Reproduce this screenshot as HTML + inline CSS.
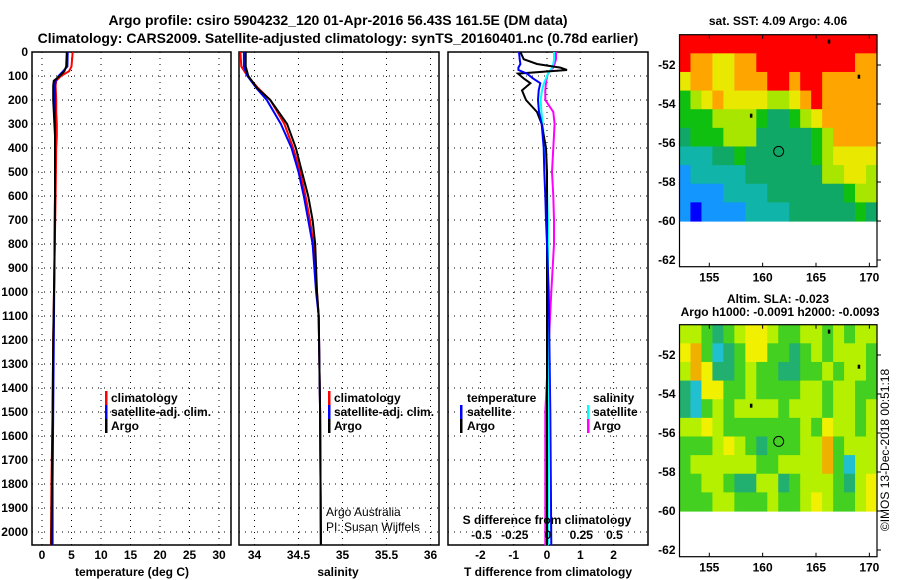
<!DOCTYPE html>
<html><head><meta charset="utf-8"><style>
body{margin:0;background:#fff;}
svg{display:block;font-family:"Liberation Sans",Arial,sans-serif;}
.b{font-weight:bold;}
</style></head><body>
<svg id="s" width="900" height="580" viewBox="0 0 900 580">
<text x="338" y="25" text-anchor="middle" class="b" font-size="14">Argo profile: csiro 5904232_120 01-Apr-2016 56.43S 161.5E (DM data)</text>
<text x="338" y="43" text-anchor="middle" class="b" font-size="14">Climatology: CARS2009. Satellite-adjusted climatology: synTS_20160401.nc (0.78d earlier)</text>
<text x="778" y="25" text-anchor="middle" class="b" font-size="12">sat. SST: 4.09 Argo: 4.06</text>
<text x="778" y="303" text-anchor="middle" class="b" font-size="12">Altim. SLA: -0.023</text>
<text x="780" y="316" text-anchor="middle" class="b" font-size="12">Argo h1000: -0.0091 h2000: -0.0093</text>
<text transform="translate(889,450) rotate(-90)" text-anchor="middle" font-size="12">©IMOS 13-Dec-2018 00:51:18</text>
<g id="g"></g>
</svg>
<script>
// ---- data ----
const depthTicks=[0,100,200,300,400,500,600,700,800,900,1000,1100,1200,1300,1400,1500,1600,1700,1800,1900,2000];
const tTicks=[0,5,10,15,20,25,30];
const sTicks=[34,34.5,35,35.5,36];
const sTickLabels=["34","34.5","35","35.5","36"];
const dTTicks=[-2,-1,0,1,2];
const dSTicks=[-0.5,-0.25,0,0.25,0.5];
const dSTickLabels=["-0.5","-0.25","0","0.25","0.5"];
const tempDepth=[0,60,80,100,120,140,200,250,300,350,400,600,900,1200,1500,1800,2055];
const tempArgo=[4.2,4.1,3.8,3.0,2.0,1.9,1.9,2.0,2.1,2.2,2.2,2.2,2.1,1.9,1.8,1.7,1.6];
const tempClim=[5.2,5.0,4.6,3.2,2.4,2.3,2.4,2.4,2.5,2.5,2.4,2.3,2.1,1.9,1.8,1.6,1.5];
const tempSat=[4.35,4.3,3.6,2.8,2.3,2.2,2.2,2.2,2.2,2.2,2.2,2.2,2.1,2.0,1.9,1.8,1.8];
const salDepth=[0,60,100,150,200,300,400,500,600,700,800,1000,1100,1500,2055];
const salArgo=[33.9,33.9,33.93,34.03,34.18,34.37,34.47,34.54,34.61,34.66,34.69,34.71,34.73,34.745,34.755];
const salClim=[33.84,33.85,33.92,34.04,34.18,34.34,34.44,34.52,34.58,34.63,34.67,34.71,34.73,34.745,34.755];
const salSat=[33.88,33.88,33.92,34.02,34.14,34.30,34.42,34.50,34.56,34.61,34.66,34.7,34.73,34.745,34.755];
const diffDepth=[0,30,50,65,75,90,110,130,160,200,250,300,400,500,600,700,800,1000,1500,2055];
const dTArgo=[-0.8,-0.7,-0.3,0.4,0.6,-0.87,-0.7,-0.5,-0.75,-0.63,-0.3,-0.16,-0.03,0,0,0,0,0,0,0];
const dTSat=[-0.84,-0.82,-0.8,-0.86,-0.86,-0.6,-0.42,-0.2,-0.25,-0.27,-0.24,-0.16,-0.1,-0.08,-0.05,-0.03,0,0.05,0.1,0.13];
const dSSat=[0.045,0.045,0.04,0.03,0.02,0,-0.015,-0.03,-0.045,-0.055,-0.05,-0.04,-0.025,-0.01,-0.005,0,0,0,0,0];
const dSArgo=[0.06,0.06,0.05,0.04,0.02,0,-0.01,-0.015,-0.02,-0.02,0.04,0.05,0.04,0.03,0.04,0.045,0.045,0.025,-0.02,-0.02];
const sstGrid=[
[9,9,9,9,9,9,9,9,9,9,9,9,9,9,9,9,9,9],
[9,8,8,7,7,8,8,9,9,9,9,9,9,9,9,9,8,8],
[7,8,8,7,7,8,8,8,9,9,8,9,9,8,8,8,8,8],
[5,6,7,8,7,7,7,7,6,6,7,8,9,8,8,8,8,8],
[5,5,5,6,6,6,6,5,4,4,5,6,7,8,8,8,8,8],
[4,5,5,5,6,6,6,4,4,4,4,4,5,6,8,8,8,8],
[3,3,3,4,4,5,4,4,4,4,4,4,5,6,7,7,7,7],
[2,3,3,3,3,3,4,4,4,4,4,4,4,6,6,7,7,6],
[2,2,2,2,3,3,3,3,4,4,4,4,4,4,4,5,6,6],
[2,1,2,2,2,2,3,3,3,3,4,4,4,4,4,4,5,4]];
const slaGrid=[
[6,6,5,4,5,6,7,7,6,5,5,6,6,5,6,5,6,6],
[7,8,5,3,4,5,7,7,5,5,4,5,6,5,6,6,6,5],
[6,8,7,4,4,5,6,5,5,4,4,5,5,6,5,6,6,5],
[4,3,7,7,5,5,6,5,5,5,5,6,6,5,6,6,5,5],
[4,3,5,6,5,6,6,6,6,5,6,6,6,5,6,6,5,6],
[6,6,7,6,5,5,5,5,5,5,5,6,5,7,6,6,5,6],
[5,5,5,6,7,6,5,4,5,5,5,6,6,8,5,6,6,6],
[5,6,6,6,6,6,6,5,5,6,6,6,6,8,5,3,6,6],
[5,5,6,6,5,4,4,6,6,4,5,6,6,6,5,4,6,7],
[5,5,5,6,6,5,5,5,6,5,5,6,7,6,5,5,6,7]];
const mapLonTicks=[155,160,165,170];
const mapLatTicks=[-52,-54,-56,-58,-60,-62];
const profLon=161.5, profLat=-56.43;
// ---- drawing ----
const NS="http://www.w3.org/2000/svg";
const G=document.getElementById('g');
function mk(t,a,p){const e=document.createElementNS(NS,t);for(const k in a)e.setAttribute(k,a[k]);(p||G).appendChild(e);return e;}
const yD=d=>52+d*0.24;
const PB=545;
function panel(x0,x1,xs,ticks,labels,name){
  const r=mk('rect',{x:x0,y:52,width:x1-x0,height:PB-52,fill:'none',stroke:'#000','stroke-width':1.5});
  
  
  depthTicks.forEach(d=>{const l=mk('line',{x1:x0,x2:x1,y1:yD(d),y2:yD(d),stroke:'#000','stroke-dasharray':'1,5'});
    
    });
  ticks.forEach((v,i)=>{const x=xs(v);
    const l=mk('line',{x1:x,x2:x,y1:52,y2:PB,stroke:'#000','stroke-dasharray':'1,5'});
    
    
    if(labels){const t=mk('text',{x:x,y:559,'text-anchor':'middle','font-size':12,'font-weight':'bold'});t.textContent=labels[i];
      
      }
  });
}
function line(xs,vals,depths,col,name){
  const pts=vals.map((v,i)=>xs(v).toFixed(1)+','+yD(depths[i]).toFixed(1)).join(' ');
  const p=mk('polyline',{points:pts,fill:'none',stroke:col,'stroke-width':2});
  
  
}
function txt(x,y,s,name,extra){const t=mk('text',Object.assign({x:x,y:y,'font-size':12,'font-weight':'bold'},extra||{}));t.textContent=s;
  
  return t;}
function bar(x,y,col,name){const r=mk('rect',{x:x,y:y-11,width:2.5,height:14,fill:col});
  
  }
depthTicks.forEach(d=>{txt(28,yD(d)+4,String(d),'depth-tick-label',{'text-anchor':'end'});});
const xT=v=>42+v*5.9;
panel(32,231,xT,tTicks,tTicks.map(String),'temp-panel');
line(xT,tempClim,tempDepth,'#f00','temp-climatology-line');
line(xT,tempSat,tempDepth,'#00f','temp-satellite-line');
line(xT,tempArgo,tempDepth,'#000','temp-argo-line');
txt(132,576,'temperature (deg C)','temp-x-axis-title',{'text-anchor':'middle'});
bar(105,402,'#f00','legend-climatology-swatch');txt(111,402,'climatology','legend-climatology');
bar(105,416,'#00f','legend-satellite-swatch');txt(111,416,'satellite-adj. clim.','legend-satellite');
bar(105,430,'#000','legend-argo-swatch');txt(111,430,'Argo','legend-argo');
const xS=v=>254.5+(v-34)*88;
panel(239,439,xS,sTicks,sTickLabels,'sal-panel');
line(xS,salClim,salDepth,'#f00','sal-climatology-line');
line(xS,salSat,salDepth,'#00f','sal-satellite-line');
line(xS,salArgo,salDepth,'#000','sal-argo-line');
txt(338,576,'salinity','sal-x-axis-title',{'text-anchor':'middle'});
bar(328,402,'#f00','legend2-climatology-swatch');txt(334,402,'climatology','legend2-climatology');
bar(328,416,'#00f','legend2-satellite-swatch');txt(334,416,'satellite-adj. clim.','legend2-satellite');
bar(328,430,'#000','legend2-argo-swatch');txt(334,430,'Argo','legend2-argo');
txt(326,516,'Argo Australia','credit-argo-australia',{'font-weight':'normal'});
txt(326,531,'PI: Susan Wijffels','credit-pi',{'font-weight':'normal'});
const xdT=v=>547+v*33.3, xdS=v=>548+v*133;
panel(448,648,xdT,dTTicks,dTTicks.map(String),'diff-panel');
line(xdS,dSArgo,diffDepth,'#f0f','sdiff-argo-line');
line(xdS,dSSat,diffDepth,'#0ff','sdiff-satellite-line');
line(xdT,dTArgo,diffDepth,'#000','tdiff-argo-line');
line(xdT,dTSat,diffDepth,'#00f','tdiff-satellite-line');
txt(548,576,'T difference from climatology','tdiff-x-axis-title',{'text-anchor':'middle'});
txt(547,524,'S difference from climatology','sdiff-axis-title',{'text-anchor':'middle'});
dSTicks.forEach((v,i)=>txt(xdS(v),539,dSTickLabels[i],'sdiff-tick-label',{'text-anchor':'middle'}));
txt(467,402,'temperature','legend3-temperature-header');
txt(593,402,'salinity','legend3-salinity-header');
bar(460,416,'#00f','legend3-tsat-swatch');txt(467,416,'satellite','legend3-tsat');
bar(460,430,'#000','legend3-targo-swatch');txt(467,430,'Argo','legend3-targo');
bar(587,416,'#0ff','legend3-ssat-swatch');txt(593,416,'satellite','legend3-ssat');
bar(587,430,'#f0f','legend3-sargo-swatch');txt(593,430,'Argo','legend3-sargo');
const sstCol={1:'#0000ff',2:'#1496ff',3:'#10b4a8',4:'#10a866',5:'#10c010',6:'#a8e600',7:'#e8e800',8:'#ffa500',9:'#ff0000'};
const slaCol={3:'#20c0d0',4:'#22b070',5:'#44d020',6:'#b4f000',7:'#f0f000',8:'#f0b000'};
function map(top,grid,cols,name){
  const x0=679.5,x1=877,bottom=top+232;
  const lonX=l=>709.3+(l-155)*10.67;
  const latY=a=>top+30.3+(-52-a)*19.5;
  const dataBot=latY(-60);
  const nr=grid.length,nc=grid[0].length,cw=(x1-x0)/nc,ch=(dataBot-top)/nr;
  grid.forEach((row,i)=>row.forEach((v,j)=>{const r=mk('rect',{x:x0+j*cw,y:top+i*ch,width:cw+0.6,height:ch+0.6,fill:cols[v]});
    
    }));
  [[166.2,-50.8],[169,-52.6],[158.9,-54.6]].forEach(p=>mk('rect',{x:lonX(p[0])-1,y:latY(p[1])-2,width:2.5,height:4,fill:'#000'}));
  const c=mk('circle',{cx:lonX(profLon),cy:latY(profLat),r:5,fill:'none',stroke:'#000','stroke-width':1});
  
  
  const f=mk('rect',{x:x0,y:top,width:x1-x0,height:bottom-top,fill:'none',stroke:'#000','stroke-width':1.2});
  
  
  mapLonTicks.forEach(l=>{const x=lonX(l);mk('line',{x1:x,x2:x,y1:top,y2:top+4,stroke:'#000'});mk('line',{x1:x,x2:x,y1:bottom,y2:bottom-4,stroke:'#000'});
    txt(x,bottom+15,String(l),name+'-lon-label',{'text-anchor':'middle'});});
  mapLatTicks.forEach(a=>{const y=latY(a);mk('line',{x1:x1,x2:x1+4,y1:y,y2:y,stroke:'#000'});
    txt(x0-4,y+4,String(a),name+'-lat-label',{'text-anchor':'end'});});
}
map(34.7,sstGrid,sstCol,'sst-map');
map(324.7,slaGrid,slaCol,'sla-map');
</script>
</body></html>
